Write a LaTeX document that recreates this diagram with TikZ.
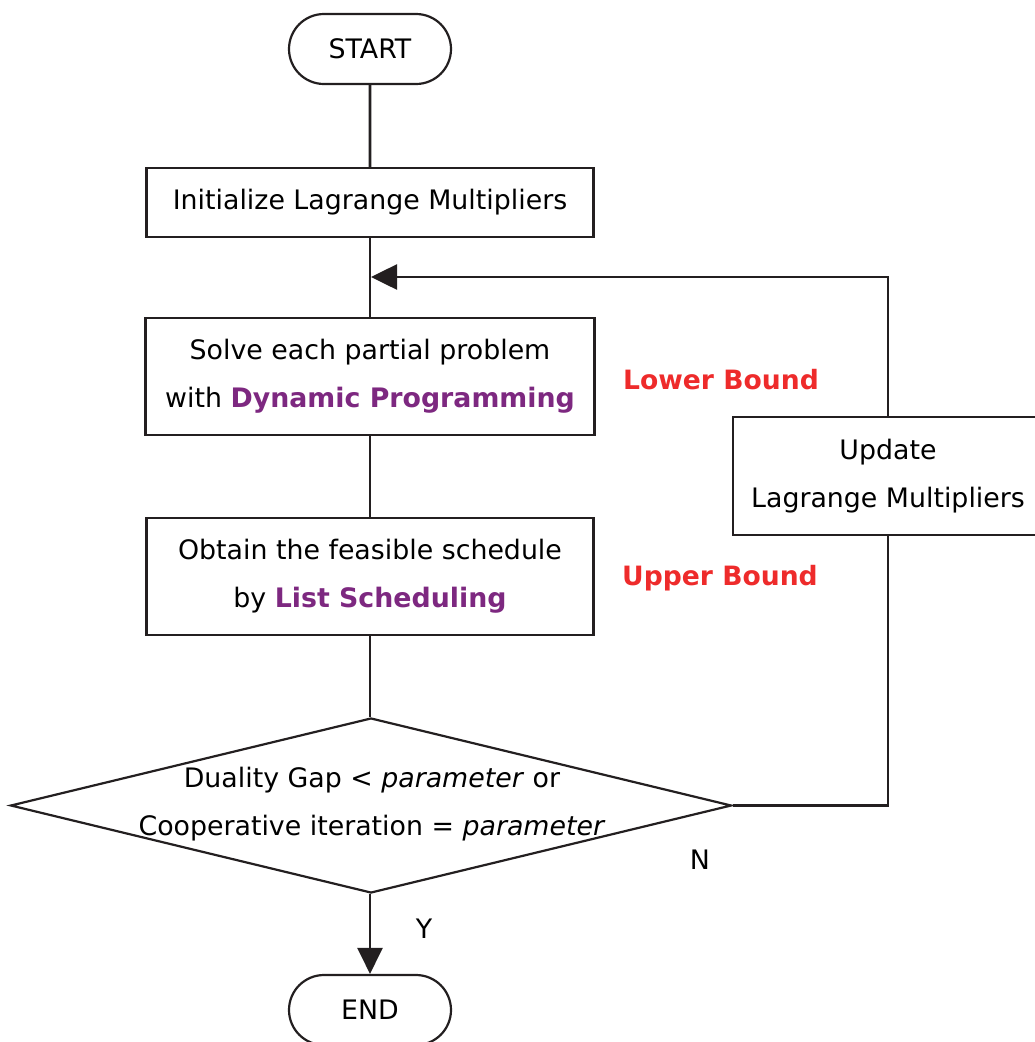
\documentclass[tikz,border=0pt]{standalone}
\usepackage{fontspec}
\setmainfont{DejaVu Sans}
\usetikzlibrary{shapes.misc,shapes.geometric,arrows.meta}
\definecolor{ink}{HTML}{231F20}
\definecolor{boundred}{HTML}{EE2B2B}
\definecolor{methodpurple}{HTML}{7D2880}
\tikzset{
  txt/.style={font=\fontsize{26.8}{48}\selectfont, text=black},
  terminal/.style={txt, draw=ink, line width=2.2pt, rounded rectangle,
    minimum width=162pt, minimum height=70pt, inner sep=0pt},
  process/.style={txt, draw=ink, line width=2.2pt, rectangle,
    align=center, inner sep=0pt},
  decision/.style={draw=ink, line width=2.2pt, diamond, inner sep=0pt,
    minimum width=721pt, minimum height=175pt},
  flow/.style={draw=ink, line width=2.6pt},
  flowarrow/.style={flow, -{Triangle[length=26pt,width=25pt]}},
  boundlabel/.style={font=\fontsize{26.6}{32}\selectfont\bfseries, text=boundred},
}
\begin{document}
\begin{tikzpicture}[x=1pt, y=-1pt]
  \useasboundingbox (0,0) rectangle (1035,1042);

  % main column, all centred on x = 370
  \node[terminal] (start) at (370,49) {START};
  \node[process, minimum width=447pt, minimum height=69pt] (init) at (370,202.5)
    {Initialize Lagrange Multipliers};
  \node[process, minimum width=449pt, minimum height=117pt] (solve) at (370,376.5)
    {Solve each partial problem\\with {\color{methodpurple}\bfseries Dynamic Programming}};
  \node[process, minimum width=447pt, minimum height=117pt] (obtain) at (370,576.5)
    {Obtain the feasible schedule\\by {\color{methodpurple}\bfseries List Scheduling}};
  \node[decision] (dec) at (371,805.5) {};
  \node[txt, align=center] (dectext) at (372,804)
    {Duality Gap < \textit{parameter} or\\Cooperative iteration = \textit{parameter}};
  \node[terminal] (finish) at (370,1010) {END};

  % update branch
  \node[process, minimum width=310pt, minimum height=118pt] (update) at (888,476)
    {Update\\Lagrange Multipliers};

  % bound annotations
  \node[boundlabel] (lower) at (721,380) {Lower Bound};
  \node[boundlabel] (upper) at (720,578) {Upper Bound};

  % branch labels
  \node[txt] (nlabel) at (700,860) {N};
  \node[txt] (ylabel) at (424,929) {Y};

  % connectors
  \coordinate (loopin) at (371,277);
  \draw[flow] (start) -- (init);
  \draw[flow] (init) -- (solve);
  \draw[flow] (solve) -- (obtain);
  \draw[flow] (obtain.south) -- (obtain.south |- dec.north);
  \draw[flowarrow] (finish.north |- dec.south) -- (finish.north);
  \draw[flow] (dec.east) -| (update.south);
  \draw[flowarrow] (update.north) |- (loopin);
\end{tikzpicture}
\end{document}
